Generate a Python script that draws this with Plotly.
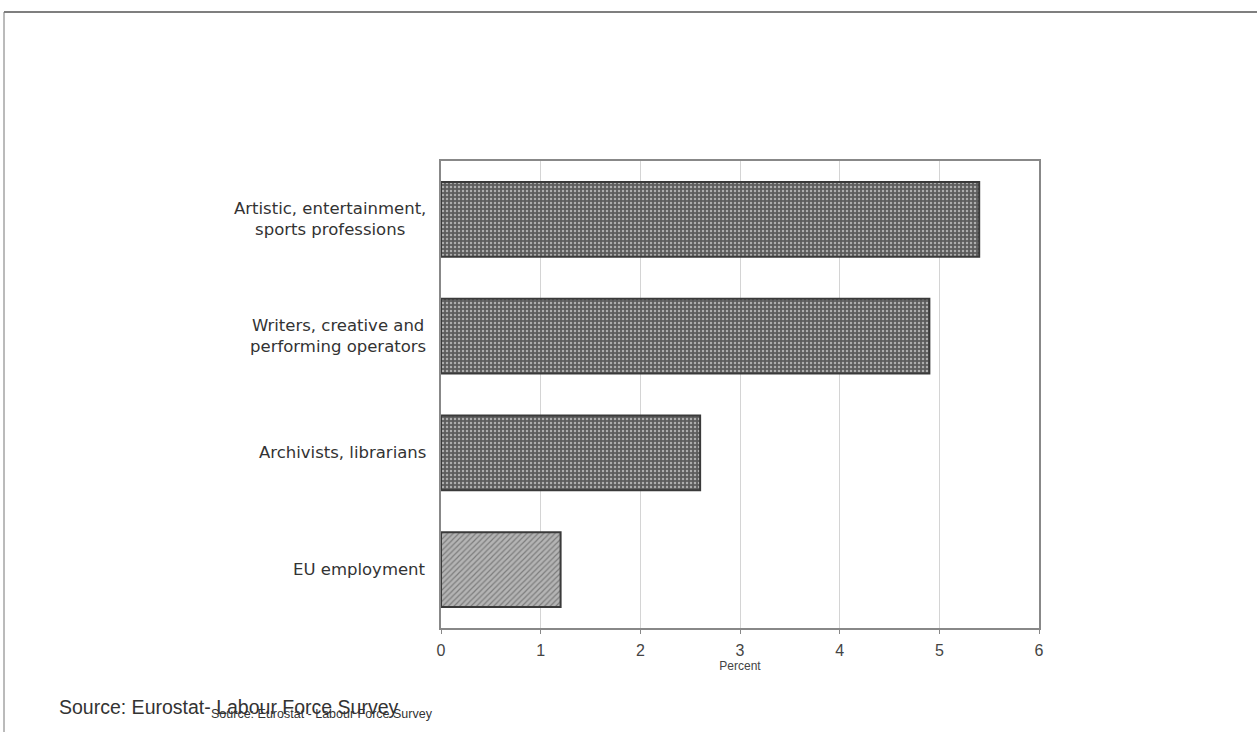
import plotly.graph_objects as go

# Share of workers in selected cultural occupations (percent)
categories = [
    "EU employment",
    "Archivists, librarians",
    "Writers, creative and<br>performing operators",
    "Artistic, entertainment,<br>sports professions",
]
values = [1.2, 2.6, 4.9, 5.4]
fill_colors = ["#b4b4b4", "#5c5c5c", "#5c5c5c", "#5c5c5c"]
pattern_shapes = ["/", ".", ".", "."]
pattern_fg = ["#8a8a8a", "#727272", "#727272", "#727272"]
x_ticks = [0, 1, 2, 3, 4, 5, 6]

W, H = 1257, 732
L, R, T, B = 441, 218, 161, 104
PW, PH = W - L - R, H - T - B

fig = go.Figure()
fig.add_trace(go.Bar(
    y=list(range(len(categories))),
    x=values,
    orientation="h",
    marker=dict(
        color=fill_colors,
        line=dict(color="#3a3a3a", width=2),
        pattern=dict(shape=pattern_shapes, fgcolor=pattern_fg,
                     size=4, solidity=0.3),
    ),
    width=0.64,
    hoverinfo="skip",
))

# Category labels, centred per line, to the left of the plot
for i, name in enumerate(categories):
    fig.add_annotation(
        x=0, xref="paper", y=i, yref="y",
        text=name, showarrow=False, xanchor="right", yanchor="middle",
        align="center", xshift=-13,
        font=dict(family="DejaVu Sans, Arial", size=16.5, color="#333333"),
    )

# Source lines
fig.add_annotation(
    x=(57 - L) / PW, xref="paper", y=(H - B - 707) / PH, yref="paper",
    text="Source: Eurostat- Labour Force Survey", showarrow=False,
    xanchor="left", yanchor="middle",
    font=dict(family="Liberation Sans, Arial", size=19.5, color="#333333"),
)
fig.add_annotation(
    x=(209 - L) / PW, xref="paper", y=(H - B - 714) / PH, yref="paper",
    text="Source: Eurostat - Labour Force Survey", showarrow=False,
    xanchor="left", yanchor="middle",
    font=dict(family="Liberation Sans, Arial", size=12.5, color="#333333"),
)

# Outer frame (top and left edges)
fx0 = (4 - L) / PW
fx1 = (W + 10 - L) / PW
fy_top = (H - B - 12) / PH
fy_bot = (H - B - H - 10) / PH
fig.add_shape(type="line", xref="paper", yref="paper",
              x0=fx0, x1=fx1, y0=fy_top, y1=fy_top,
              line=dict(color="#555555", width=1.5))
fig.add_shape(type="line", xref="paper", yref="paper",
              x0=fx0, x1=fx0, y0=fy_top, y1=fy_bot,
              line=dict(color="#777777", width=1))

fig.update_layout(
    width=W, height=H,
    margin=dict(l=L, r=R, t=T, b=B),
    paper_bgcolor="white", plot_bgcolor="white",
    showlegend=False,
    xaxis=dict(
        range=[0, 6], tickvals=x_ticks, ticktext=[str(v) for v in x_ticks],
        showgrid=True, gridcolor="#d4d4d4", gridwidth=1,
        showline=True, linecolor="#888888", linewidth=1.5, mirror=True,
        ticks="outside", ticklen=4, tickcolor="#888888",
        ticklabelstandoff=3,
        zeroline=False,
        tickfont=dict(family="Liberation Sans, Arial", size=16, color="#444444"),
        title=dict(text="Percent", standoff=3,
                   font=dict(family="Liberation Sans, Arial", size=12, color="#444444")),
        fixedrange=True,
    ),
    yaxis=dict(
        range=[-0.5, 3.5], showticklabels=False, showgrid=False,
        showline=True, linecolor="#888888", linewidth=1.5, mirror=True,
        zeroline=False, fixedrange=True,
    ),
)

fig.write_html("out.html")
